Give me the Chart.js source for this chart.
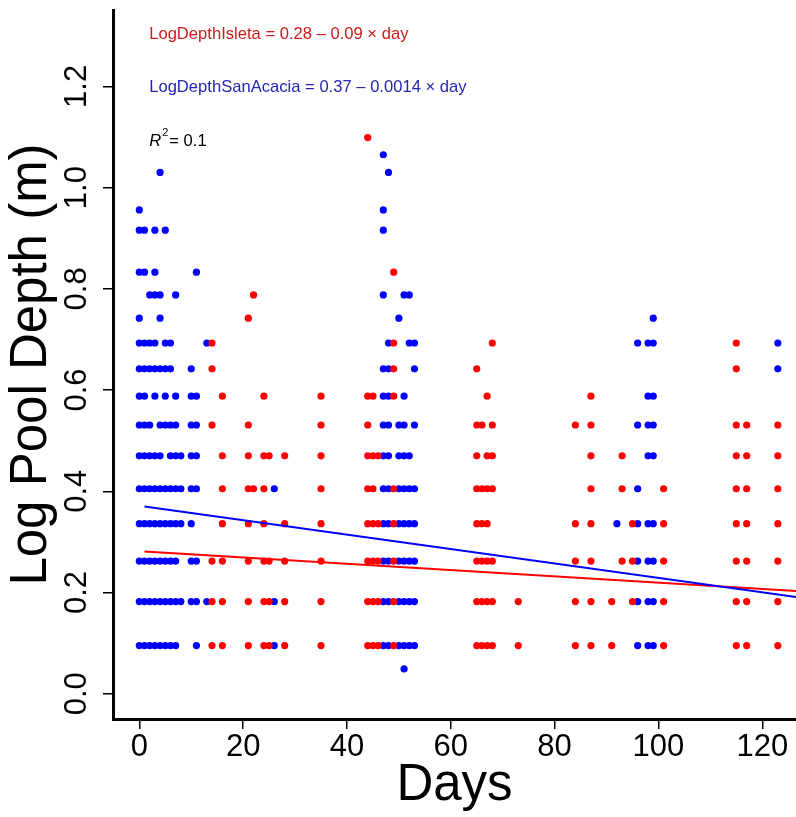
<!DOCTYPE html>
<html lang="en">

<head>
    <meta charset="UTF-8" />
    <title>Log Pool Depth vs Days</title>
    <script src="https://cdn.jsdelivr.net/npm/chart.js"></script>
    <style>
        body { margin: 0; background: #fff; }
        canvas { display: block; }
    </style>
</head>

<body>
    <canvas id="graficoProfundidade" width="796" height="817"></canvas>
</body>

</html>

<script>
    // log depth levels found in the plot (values are ln(1 + depth))
    const depthLevels = [0.049, 0.095, 0.182, 0.262, 0.336, 0.405, 0.470, 0.531, 0.588, 0.642,
        0.693, 0.742, 0.788, 0.833, 0.916, 0.956, 1.030, 1.065, 1.099];

    // days sampled at each level, one list per entry of depthLevels
    const sanAcaciaDays = [
        [51],
        [0, 1, 2, 3, 4, 5, 6, 7, 11, 26, 47, 48, 50, 51, 52, 53, 96, 98, 99],
        [0, 1, 2, 3, 4, 5, 6, 7, 8, 10, 11, 13, 26, 47, 48, 50, 51, 52, 53, 96, 98, 99],
        [0, 1, 2, 3, 4, 5, 6, 7, 10, 11, 47, 48, 50, 51, 52, 53, 96, 98, 99],
        [0, 1, 2, 3, 4, 5, 6, 7, 8, 10, 47, 48, 50, 51, 52, 53, 92, 96, 98, 99],
        [0, 1, 2, 3, 4, 5, 6, 7, 8, 10, 11, 26, 47, 48, 50, 51, 52, 53, 96],
        [0, 1, 2, 3, 4, 6, 7, 8, 10, 11, 47, 48, 50, 51, 52, 98, 99],
        [0, 1, 2, 4, 5, 6, 7, 10, 11, 47, 48, 50, 51, 53, 96, 98, 99],
        [0, 1, 3, 5, 7, 10, 11, 47, 48, 51, 98, 99],
        [0, 1, 2, 3, 4, 5, 6, 10, 47, 48, 53, 123],
        [0, 1, 2, 3, 5, 6, 13, 48, 52, 53, 96, 98, 99, 123],
        [0, 4, 50, 99],
        [2, 3, 4, 7, 47, 51, 52],
        [0, 1, 3, 11],
        [0, 1, 3, 5, 47],
        [0, 47],
        [4, 48],
        [47],
        []
    ];

    const isletaDays = [
        [],
        [14, 16, 21, 24, 25, 28, 35, 44, 45, 46, 49, 65, 66, 67, 68, 73, 84, 87, 91, 101, 115, 117, 123],
        [14, 16, 21, 24, 25, 28, 35, 44, 45, 46, 49, 65, 66, 67, 68, 73, 84, 87, 91, 95, 101, 115, 117, 123],
        [14, 16, 21, 24, 25, 28, 35, 44, 45, 46, 49, 65, 66, 67, 68, 84, 87, 93, 95, 101, 115, 117, 123],
        [16, 21, 24, 28, 35, 44, 45, 46, 49, 65, 66, 67, 84, 87, 95, 101, 115, 117, 123],
        [16, 21, 22, 24, 35, 44, 45, 49, 65, 66, 67, 68, 87, 93, 101, 115, 117, 123],
        [16, 21, 24, 25, 28, 35, 44, 45, 46, 65, 67, 68, 87, 93, 115, 117, 123],
        [14, 21, 35, 44, 65, 66, 68, 84, 87, 115, 117, 123],
        [16, 24, 35, 44, 45, 49, 67, 87],
        [14, 49, 65, 115],
        [14, 49, 68, 115],
        [21],
        [22],
        [49],
        [],
        [],
        [],
        [],
        [44]
    ];

    // fitted lines, read at their two ends
    const fitDays = [1, 130];
    const isletaFit = [0.281, 0.201];
    const sanAcaciaFit = [0.370, 0.186];

    const xTickStep = 20;
    const yTickStep = 0.2;

    function montarPontos(diasPorNivel) {
        let pontos = [];
        for (let i = 0; i < depthLevels.length; i++) {
            for (let d of diasPorNivel[i]) {
                pontos.push({ x: d, y: depthLevels[i] });
            }
        }
        return pontos;
    }

    function montarLinha(valores) {
        return fitDays.map((d, i) => ({ x: d, y: valores[i] }));
    }

    // equations and R2 written in the top left corner of the plot
    const anotacoes = {
        id: 'anotacoes',
        afterDraw(chart) {
            const ctx = chart.ctx;
            const sx = chart.scales.x;
            const sy = chart.scales.y;
            const x0 = sx.getPixelForValue(1.9);
            ctx.save();
            ctx.textAlign = 'left';
            ctx.textBaseline = 'middle';
            ctx.font = "16.6px 'Liberation Sans', Arial, sans-serif";

            ctx.fillStyle = '#cc1b1b';
            ctx.fillText('LogDepthIsleta = 0.28 \u2013 0.09 \u00d7 day', x0, sy.getPixelForValue(1.302));

            ctx.fillStyle = '#2424b4';
            ctx.fillText('LogDepthSanAcacia = 0.37 \u2013 0.0014 \u00d7 day', x0, sy.getPixelForValue(1.199));

            const yR = sy.getPixelForValue(1.092);
            ctx.fillStyle = '#000';
            ctx.font = "italic 16.6px 'Liberation Sans', Arial, sans-serif";
            ctx.fillText('R', x0, yR);
            let w = ctx.measureText('R').width;
            ctx.font = "11px 'Liberation Sans', Arial, sans-serif";
            ctx.fillText('2', x0 + w + 1, yR - 8);
            w += ctx.measureText('2').width + 1;
            ctx.font = "16.6px 'Liberation Sans', Arial, sans-serif";
            ctx.fillText('= 0.1', x0 + w + 1, yR);
            ctx.restore();
        }
    };

    Chart.defaults.font.family = "'Liberation Sans', Arial, sans-serif";
    Chart.defaults.color = '#000';

    const config = {
        type: 'scatter',
        data: {
            datasets: [
                {
                    label: 'San Acacia fit',
                    data: montarLinha(sanAcaciaFit),
                    showLine: true,
                    borderColor: '#0000ff',
                    borderWidth: 2,
                    pointRadius: 0,
                    order: 0
                },
                {
                    label: 'Isleta fit',
                    data: montarLinha(isletaFit),
                    showLine: true,
                    borderColor: '#ff0000',
                    borderWidth: 2,
                    pointRadius: 0,
                    order: 1
                },
                {
                    label: 'Isleta',
                    data: montarPontos(isletaDays),
                    backgroundColor: '#ff0000',
                    borderWidth: 0,
                    pointRadius: 3.6,
                    order: 2
                },
                {
                    label: 'San Acacia',
                    data: montarPontos(sanAcaciaDays),
                    backgroundColor: '#0000ff',
                    borderWidth: 0,
                    pointRadius: 3.6,
                    order: 3
                }
            ]
        },
        options: {
            responsive: false,
            animation: false,
            layout: { autoPadding: false, padding: { top: 10, right: 0, left: 0, bottom: 0 } },
            plugins: {
                legend: { display: false },
                tooltip: { enabled: false }
            },
            scales: {
                x: {
                    type: 'linear',
                    min: -5.07,
                    max: 126.5,
                    ticks: {
                        stepSize: xTickStep,
                        includeBounds: false,
                        autoSkip: false,
                        maxRotation: 0,
                        padding: 0,
                        font: { size: 31 },
                        color: '#000'
                    },
                    grid: { drawOnChartArea: false, drawTicks: true, tickLength: 10, color: '#000', lineWidth: 1.5 },
                    border: { display: true, color: '#000', width: 3 },
                    title: { display: true, text: 'Days', font: { size: 51 }, color: '#000', padding: 0 },
                    afterFit: function (s) {
                        s.height = 98;
                        s.paddingLeft = 0;
                        s.paddingRight = 0;
                    }
                },
                y: {
                    type: 'linear',
                    min: -0.05,
                    max: 1.351,
                    ticks: {
                        stepSize: yTickStep,
                        includeBounds: false,
                        autoSkip: false,
                        minRotation: 90,
                        maxRotation: 90,
                        crossAlign: 'center',
                        padding: 3.5,
                        font: { size: 31 },
                        color: '#000',
                        callback: v => v.toFixed(1)
                    },
                    grid: { drawOnChartArea: false, drawTicks: true, tickLength: 10, color: '#000', lineWidth: 1.5 },
                    border: { display: true, color: '#000', width: 3 },
                    title: { display: true, text: 'Log Pool Depth (m)', font: { size: 51 }, color: '#000', padding: { top: 1, bottom: 0 } },
                    afterFit: function (s) {
                        s.width = 113;
                        s.paddingTop = 0;
                        s.paddingBottom = 0;
                    }
                }
            }
        },
        plugins: [anotacoes]
    };

    new Chart(document.getElementById('graficoProfundidade'), config);
</script>
